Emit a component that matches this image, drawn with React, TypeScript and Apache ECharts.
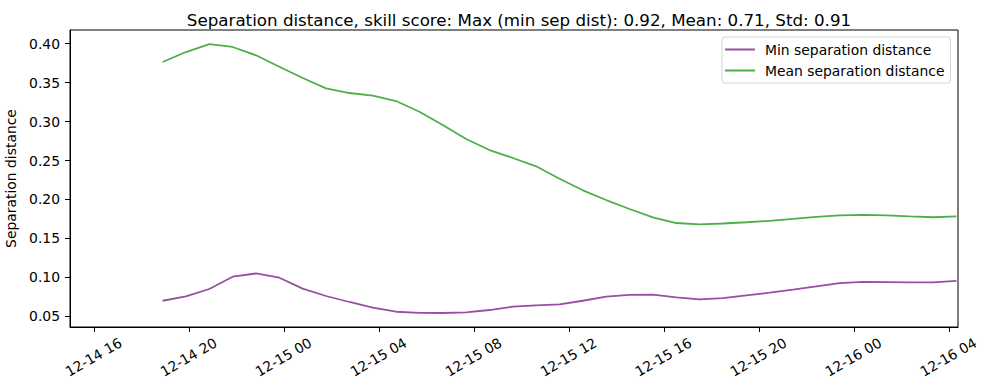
import React, { useEffect, useRef } from "react";
import * as echarts from "echarts";

const times: string[] = [
  "2024-12-14T18:52:00Z", "2024-12-14T19:51:00Z", "2024-12-14T20:50:00Z", "2024-12-14T21:49:00Z",
  "2024-12-14T22:48:00Z", "2024-12-14T23:47:00Z", "2024-12-15T00:46:00Z", "2024-12-15T01:45:00Z",
  "2024-12-15T02:44:00Z", "2024-12-15T03:43:00Z", "2024-12-15T04:42:00Z", "2024-12-15T05:41:00Z",
  "2024-12-15T06:40:00Z", "2024-12-15T07:39:00Z", "2024-12-15T08:38:00Z", "2024-12-15T09:37:00Z",
  "2024-12-15T10:36:00Z", "2024-12-15T11:35:00Z", "2024-12-15T12:34:00Z", "2024-12-15T13:33:00Z",
  "2024-12-15T14:32:00Z", "2024-12-15T15:31:00Z", "2024-12-15T16:30:00Z", "2024-12-15T17:29:00Z",
  "2024-12-15T18:28:00Z", "2024-12-15T19:27:00Z", "2024-12-15T20:26:00Z", "2024-12-15T21:25:00Z",
  "2024-12-15T22:24:00Z", "2024-12-15T23:23:00Z", "2024-12-16T00:22:00Z", "2024-12-16T01:21:00Z",
  "2024-12-16T02:20:00Z", "2024-12-16T03:19:00Z", "2024-12-16T04:18:00Z",
];

const minSep: number[] = [
  0.0700, 0.0757, 0.0851, 0.1009, 0.1050, 0.0996, 0.0855, 0.0761, 0.0684, 0.0611,
  0.0559, 0.0545, 0.0543, 0.0551, 0.0581, 0.0624, 0.0641, 0.0654, 0.0700, 0.0752,
  0.0776, 0.0778, 0.0744, 0.0718, 0.0735, 0.0770, 0.0803, 0.0842, 0.0885, 0.0925,
  0.0942, 0.0940, 0.0936, 0.0936, 0.0954,
];

const meanSep: number[] = [
  0.3765, 0.3893, 0.3995, 0.3958, 0.3851, 0.3705, 0.3560, 0.3427, 0.3367, 0.3333,
  0.3264, 0.3127, 0.2956, 0.2776, 0.2635, 0.2533, 0.2426, 0.2267, 0.2118, 0.1993,
  0.1878, 0.1771, 0.1698, 0.1681, 0.1692, 0.1708, 0.1726, 0.1750, 0.1777, 0.1796,
  0.1802, 0.1797, 0.1782, 0.1772, 0.1784,
];

const xTicks: string[] = [
  "2024-12-14T16:00:00Z", "2024-12-14T20:00:00Z", "2024-12-15T00:00:00Z", "2024-12-15T04:00:00Z",
  "2024-12-15T08:00:00Z", "2024-12-15T12:00:00Z", "2024-12-15T16:00:00Z", "2024-12-15T20:00:00Z",
  "2024-12-16T00:00:00Z", "2024-12-16T04:00:00Z",
];
const yTicks: number[] = [0.05, 0.1, 0.15, 0.2, 0.25, 0.3, 0.35, 0.4];

const xMin = "2024-12-14T14:58:00Z";
const xMax = "2024-12-16T04:22:00Z";
const yMin = 0.0363;
const yMax = 0.4176;

const title = "Separation distance, skill score: Max (min sep dist): 0.92, Mean: 0.71, Std: 0.91";
const seriesNames = ["Min separation distance", "Mean separation distance"];
const colors = ["#984ea3", "#4daf4a"];

const pad = (n: number) => (n < 10 ? "0" + n : "" + n);
const fmtTime = (v: number) => {
  const d = new Date(v);
  return `${pad(d.getUTCMonth() + 1)}-${pad(d.getUTCDate())} ${pad(d.getUTCHours())}`;
};

export default function App() {
  const ref = useRef<HTMLDivElement>(null);
  useEffect(() => {
    if (!ref.current) return;
    const chart = echarts.init(ref.current, null, { renderer: "svg" });
    const font = "DejaVu Sans";
    const ts = times.map((t) => Date.parse(t));
    const xt = xTicks.map((t) => Date.parse(t));
    chart.setOption({
      animation: false,
      textStyle: { fontFamily: font },
      title: {
        text: title,
        left: 514,
        top: 6,
        textAlign: "center",
        textStyle: { fontFamily: font, fontSize: 16.7, fontWeight: "normal", color: "#000" },
      },
      legend: {
        left: 722,
        top: 37,
        orient: "vertical",
        padding: [4, 6, 4, 3],
        icon: "rect",
        itemWidth: 30,
        itemHeight: 2,
        itemGap: 4,
        borderColor: "#d4d4d4",
        borderWidth: 1,
        borderRadius: 3,
        backgroundColor: "rgba(255,255,255,0.8)",
        textStyle: { fontFamily: font, fontSize: 13.9, lineHeight: 17, color: "#000", padding: [0, 0, 0, 5] },
        data: seriesNames,
      },
      grid: {
        left: 70,
        top: 30,
        right: 31,
        bottom: 63,
        show: true,
        borderColor: "#000",
        borderWidth: 1,
        backgroundColor: "transparent",
        containLabel: false,
        outerBoundsMode: "none",
      },
      xAxis: {
        type: "value",
        min: Date.parse(xMin),
        max: Date.parse(xMax),
        axisLine: { show: true, lineStyle: { color: "#000", width: 1 } },
        splitLine: { show: false },
        axisTick: {
          show: true,
          length: 5,
          lineStyle: { color: "#000" },
          customValues: xt,
        },
        axisLabel: { show: false },
      },
      yAxis: {
        type: "value",
        min: yMin,
        max: yMax,
        name: "Separation distance",
        nameLocation: "middle",
        nameGap: 47,
        nameTextStyle: { fontFamily: font, fontSize: 13.9, color: "#000" },
        axisLine: { show: true, lineStyle: { color: "#000", width: 1 } },
        splitLine: { show: false },
        axisTick: {
          show: true,
          length: 5,
          lineStyle: { color: "#000" },
          customValues: yTicks,
        },
        axisLabel: {
          customValues: yTicks,
          margin: 10,
          fontFamily: font,
          fontSize: 13.9,
          color: "#000",
          formatter: (v: number) => v.toFixed(2),
        },
      },
      series: [
        {
          name: seriesNames[0],
          type: "line",
          symbol: "none",
          data: ts.map((t, i) => [t, minSep[i]]),
          lineStyle: { color: colors[0], width: 1.8 },
          itemStyle: { color: colors[0] },
          clip: true,
        },
        {
          name: seriesNames[1],
          type: "line",
          symbol: "none",
          data: ts.map((t, i) => [t, meanSep[i]]),
          lineStyle: { color: colors[1], width: 1.8 },
          itemStyle: { color: colors[1] },
          clip: true,
        },
      ],
    });
    // rotated x tick labels, centred under each tick (positions from the axis scale)
    const labelEls = xt.map((v) => {
      const p = chart.convertToPixel({ xAxisIndex: 0, yAxisIndex: 0 }, [v, yMin]) as number[];
      return {
        type: "text",
        x: p[0] - 1,
        y: p[1] + 30,
        rotation: Math.PI / 6,
        silent: true,
        style: {
          text: fmtTime(v),
          fontFamily: font,
          fontSize: 13.9,
          fill: "#000",
          align: "center",
          verticalAlign: "middle",
        },
      };
    });
    chart.setOption({ graphic: labelEls });
    return () => chart.dispose();
  }, []);
  return (
    <div
      ref={ref}
      style={{ position: "fixed", left: 0, top: 0, width: 989, height: 390, background: "#fff" }}
    />
  );
}
